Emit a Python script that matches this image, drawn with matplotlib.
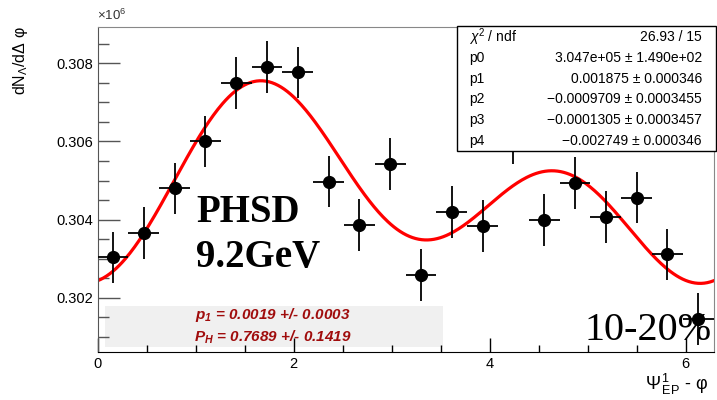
import numpy as np
import matplotlib.pyplot as plt
from matplotlib.patches import Rectangle
from matplotlib.ticker import MultipleLocator

plt.rcParams['font.family'] = ['Liberation Sans', 'DejaVu Sans']
plt.rcParams['mathtext.fontset'] = 'custom'
plt.rcParams['mathtext.rm'] = 'Liberation Sans'
plt.rcParams['mathtext.it'] = 'Liberation Sans:italic'
plt.rcParams['mathtext.bf'] = 'Liberation Sans:bold:italic'

# 20 bins in Psi_EP - phi, from 0 to 2 pi
n_bins = 20
counts = [303030, 303650, 304800, 306000, 307490, 307900, 307770, 304970, 303860, 305420,
          302580, 304200, 303840, 306080, 303990, 304930, 304070, 304560, 303110, 301450]
errors = [660] * n_bins

# fit parameters from the stats box
fit_names = ['p0', 'p1', 'p2', 'p3', 'p4']
fit_values = [3.047e5, 0.001875, -0.0009709, -0.0001305, -0.002749]
fit_text = ['3.047e+05 \u00b1 1.490e+02', '0.001875 \u00b1 0.000346',
            '\u22120.0009709 \u00b1 0.0003455', '\u22120.0001305 \u00b1 0.0003457',
            '\u22120.002749 \u00b1 0.000346']
chi2_text = '26.93 / 15'

edges = np.linspace(0, 2 * np.pi, n_bins + 1)
centers = 0.5 * (edges[:-1] + edges[1:])
half_w = 0.5 * (edges[1] - edges[0])
scale = 1e6

fig = plt.figure(figsize=(7.17, 4.0), dpi=100)
ax = fig.add_axes([97.5 / 717, 48 / 400, 616 / 717, 325 / 400])
tf = fig.transFigure


def fx(px):
    return px / 717


def fy(py):
    return 1 - py / 400


p0, p1, p2, p3, p4 = fit_values
xf = np.linspace(0, 2 * np.pi, 400)
yf = p0 * (1 + 2 * p1 * np.sin(xf) + 2 * p2 * np.cos(xf)
           + 2 * p3 * np.sin(2 * xf) + 2 * p4 * np.cos(2 * xf))
ax.plot(xf, yf / scale, color='#ff0000', lw=2.3, zorder=2)

ax.errorbar(centers, np.array(counts) / scale, xerr=half_w, yerr=np.array(errors) / scale,
            fmt='o', color='black', ms=8.5, elinewidth=1.3, capsize=0, zorder=3)

ax.set_xlim(0, 2 * np.pi)
ax.set_ylim(0.30061, 0.30893)
ax.xaxis.set_major_locator(MultipleLocator(2))
ax.xaxis.set_minor_locator(MultipleLocator(0.5))
ax.yaxis.set_major_locator(MultipleLocator(0.002))
ax.yaxis.set_minor_locator(MultipleLocator(0.0005))
ax.yaxis.set_major_formatter(plt.FuncFormatter(lambda v, p: f'{v:.3f}'))
ax.tick_params(which='both', direction='in', top=False, right=False, labelsize=10.5)
ax.tick_params(axis='y', which='major', length=16, width=1, color='#555555')
ax.tick_params(axis='y', which='minor', length=8, width=1, color='#555555')
ax.tick_params(axis='x', which='major', length=10, width=1)
ax.tick_params(axis='x', which='minor', length=5, width=1)
for s in ['top', 'right']:
    ax.spines[s].set_color('#888888')
ax.spines['left'].set_color('#555555')

fig.text(fx(97), fy(15), '\u00d710$^{6}$', fontsize=9.5, ha='left', va='center', color='#333333')
fig.text(fx(21), fy(61), 'dN$_{\u039b}$/d\u0394 \u03c6', rotation=90,
         fontsize=11.5, ha='center', va='center')
fig.text(fx(708), fy(384), r'$\mathrm{\Psi}^{\,1}_{\,\mathrm{EP}}$ - ' + '\u03c6', fontsize=13,
         ha='right', va='center')

# stats box
ax.add_patch(Rectangle((fx(457), fy(151)), 259 / 717, 125 / 400, transform=tf,
                       facecolor='white', edgecolor='black', lw=1, zorder=5, clip_on=False))
rows = [(r'$\chi^{2}$ / ndf', chi2_text)] + list(zip(fit_names, fit_text))
for i, (name, val) in enumerate(rows):
    yy = fy(37 + 20.8 * i)
    ax.text(fx(469), yy, name, transform=tf, fontsize=10, ha='left', va='center', zorder=6)
    ax.text(fx(702), yy, val, transform=tf, fontsize=10, ha='right', va='center', zorder=6)

# gray result box
ax.add_patch(Rectangle((fx(105), fy(347)), 338 / 717, 41 / 400, transform=tf,
                       facecolor='#f0f0f0', edgecolor='none', zorder=1))
res_color = '#a00c0c'
ax.text(fx(273), fy(315), r'$\mathbf{p_{1}}$ = 0.0019 +/- 0.0003', transform=tf,
        fontsize=11, fontweight='bold', fontstyle='italic', color=res_color,
        ha='center', va='center', zorder=1.5)
ax.text(fx(273), fy(337), r'$\mathbf{P_{H}}$ = 0.7689 +/- 0.1419', transform=tf,
        fontsize=11, fontweight='bold', fontstyle='italic', color=res_color,
        ha='center', va='center', zorder=1.5)

ax.text(fx(196), fy(212), 'PHSD', transform=tf, fontsize=28, fontweight='bold',
        family='Liberation Serif', ha='left', va='center', zorder=1.5)
ax.text(fx(196), fy(258), '9.2GeV', transform=tf, fontsize=28, fontweight='bold',
        family='Liberation Serif', ha='left', va='center', zorder=1.5)
ax.text(fx(712), fy(331), '10-20%', transform=tf, fontsize=29,
        family='Liberation Serif', ha='right', va='center', zorder=1.5)

fig.savefig('out.png', dpi=100)
